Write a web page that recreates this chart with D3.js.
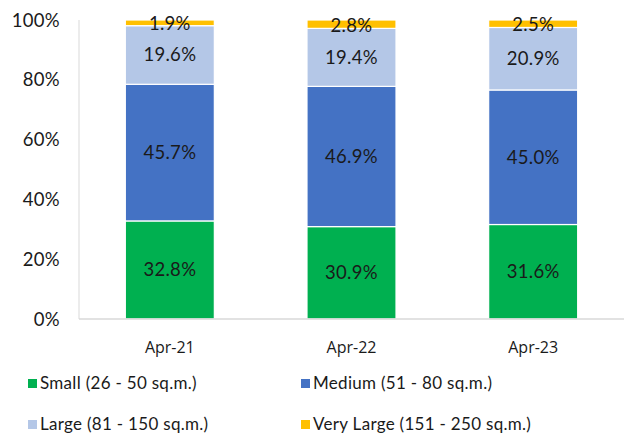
<!DOCTYPE html>
<html><head><meta charset="utf-8">
<script src="https://cdn.jsdelivr.net/npm/d3@7"></script>
<style>body{margin:0;background:#fff}svg{display:block}</style>
</head><body><div id="c"></div>
<script>
const categories = ["Apr-21", "Apr-22", "Apr-23"];
const seriesNames = ["Small (26 - 50 sq.m.)", "Medium (51 - 80 sq.m.)", "Large (81 - 150 sq.m.)", "Very Large (151 - 250 sq.m.)"];
const small = [32.8, 30.9, 31.6];
const medium = [45.7, 46.9, 45.0];
const large = [19.6, 19.4, 20.9];
const veryLarge = [1.9, 2.8, 2.5];
const colors = ["#00B050", "#4472C4", "#B4C7E7", "#FFC000"];
const yTicks = [0, 20, 40, 60, 80, 100];

const W = 624, H = 439;
const m = {l: 79, r: 0, t: 20, b: 120};
const svg = d3.select("#c").append("svg").attr("width", W).attr("height", H);
const font = "Lato, 'Open Sans', sans-serif";

const x = d3.scaleBand().domain(categories).range([m.l, W - m.r]).paddingInner(0.51).paddingOuter(0.255);
const y = d3.scaleLinear().domain([0, 100]).range([H - m.b, m.t]);

const rows = categories.map((c, i) => ({cat: c, s0: small[i], s1: medium[i], s2: large[i], s3: veryLarge[i]}));
const stack = d3.stack().keys(["s0", "s1", "s2", "s3"])(rows);

svg.append("line").attr("x1", m.l).attr("x2", m.l).attr("y1", y(100)).attr("y2", y(0)).attr("stroke", "#D9D9D9").attr("stroke-width", 1);

const g = svg.append("g");
stack.forEach((layer, li) => {
  g.selectAll(null).data(layer).enter().append("rect")
    .attr("x", d => x(d.data.cat))
    .attr("width", x.bandwidth())
    .attr("y", d => y(d[1]))
    .attr("height", d => y(d[0]) - y(d[1]))
    .attr("fill", colors[li])
    .attr("stroke", "#fff").attr("stroke-width", 1.2);
});
svg.append("line").attr("x1", m.l).attr("x2", W).attr("y1", y(0)).attr("y2", y(0)).attr("stroke", "#D9D9D9").attr("stroke-width", 1.5);

stack.forEach((layer, li) => {
  svg.selectAll(null).data(layer).enter().append("text")
    .attr("x", d => x(d.data.cat) + x.bandwidth() / 2)
    .attr("y", d => (y(d[0]) + y(d[1])) / 2 + 6.5 + (li === 3 ? 1 : 0))
    .attr("text-anchor", "middle")
    .attr("font-family", font).attr("font-size", 18.5).attr("letter-spacing", 0.3).attr("fill", "#1a1a1a")
    .text(d => (d[1] - d[0]).toFixed(1) + "%");
});

svg.selectAll(null).data(yTicks).enter().append("text")
  .attr("x", 60).attr("y", d => y(d) + 6.5)
  .attr("text-anchor", "end")
  .attr("font-family", font).attr("font-size", 18.5).attr("letter-spacing", 0.3).attr("fill", "#1a1a1a")
  .text(d => d + "%");

svg.selectAll(null).data(categories).enter().append("text")
  .attr("x", d => x(d) + x.bandwidth() / 2).attr("y", 353)
  .attr("text-anchor", "middle")
  .attr("font-family", "'Open Sans', sans-serif").attr("font-size", 16).attr("fill", "#1a1a1a")
  .text(d => d);

const legPos = [[28, 389], [301, 389], [28, 430], [301, 430]];
seriesNames.forEach((n, i) => {
  const [lx, ly] = legPos[i];
  svg.append("rect").attr("x", lx).attr("y", ly - 10).attr("width", 9).attr("height", 9).attr("fill", colors[i]);
  svg.append("text").attr("x", lx + 12).attr("y", ly).attr("font-family", font).attr("font-size", 17).attr("letter-spacing", 0.3).attr("fill", "#1a1a1a").text(n);
});
</script></body></html>
